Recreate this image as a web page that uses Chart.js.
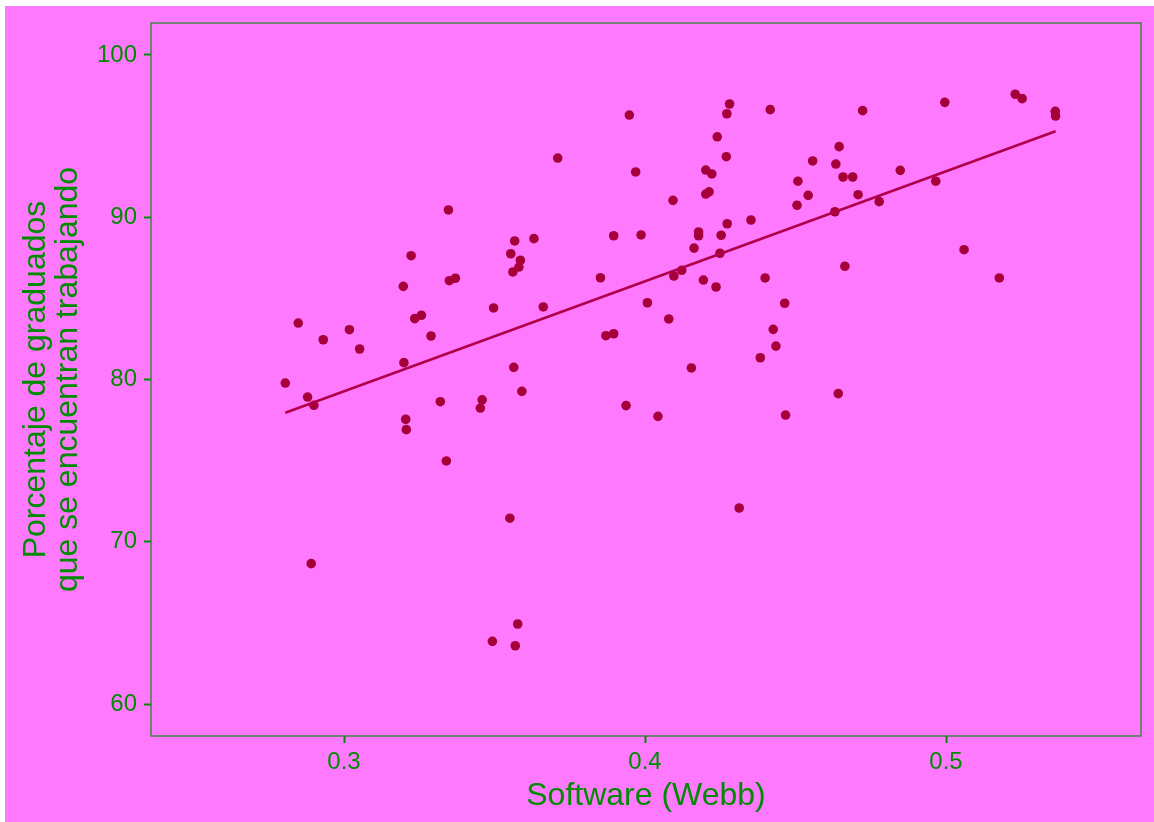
<!DOCTYPE html>
<html>
<head>
<meta charset="utf-8">
<script src="https://cdn.jsdelivr.net/npm/chart.js@4/dist/chart.umd.min.js"></script>
<style>
  html, body { margin: 0; padding: 0; background: #ffffff; }
  #wrap { position: absolute; left: 0; top: 0; width: 1154px; height: 822px; }
</style>
</head>
<body>
<div id="wrap"><canvas id="c" width="1154" height="822"></canvas></div>
<script>
// ---- data ----
const software = [
  0.3347, 0.3223, 0.3197, 0.3350, 0.3370, 0.3567, 0.3631, 0.3554, 0.3586, 0.3581,
  0.3561, 0.3497, 0.3662, 0.3710, 0.3948, 0.3969, 0.4093, 0.4281, 0.4272, 0.4416,
  0.4240, 0.4270, 0.4202, 0.4222, 0.4213, 0.4202, 0.4557, 0.4634, 0.4645, 0.4658,
  0.4508, 0.4542, 0.4505, 0.4631, 0.4352, 0.4273, 0.4178, 0.4178, 0.4253, 0.4163,
  0.4249, 0.3896, 0.3987, 0.3852, 0.4096, 0.4122, 0.4194, 0.4236, 0.4399, 0.4008,
  0.4464, 0.4723, 0.4996, 0.5230, 0.5253, 0.5363, 0.5364, 0.4690, 0.4708, 0.4848,
  0.4778, 0.4966, 0.4664, 0.5060, 0.5177, 0.2848, 0.2931, 0.3018, 0.3052, 0.2805,
  0.2879, 0.2900, 0.3199, 0.3235, 0.3257, 0.3289, 0.3564, 0.3591, 0.3205, 0.3207,
  0.3320, 0.3459, 0.3453, 0.3340, 0.3551, 0.2891, 0.4079, 0.3870, 0.3896, 0.4426,
  0.4435, 0.4383, 0.4154, 0.3937, 0.4043, 0.4467, 0.4642, 0.4313, 0.3577, 0.3493,
  0.3569
];
const pctEmployed = [
  90.45, 87.63, 85.74, 86.09, 86.24, 88.54, 88.68, 87.75, 87.35, 86.93,
  86.63, 84.41, 84.47, 93.65, 96.30, 92.79, 91.04, 96.98, 96.38, 96.63,
  94.96, 93.73, 92.91, 92.67, 91.57, 91.43, 93.47, 93.28, 94.35, 92.48,
  92.22, 91.35, 90.74, 90.34, 89.83, 89.60, 89.09, 88.86, 88.89, 88.10,
  87.78, 88.86, 88.91, 86.27, 86.38, 86.73, 86.13, 85.70, 86.26, 84.73,
  84.70, 96.57, 97.08, 97.58, 97.31, 96.53, 96.24, 92.48, 91.39, 92.89,
  90.96, 92.22, 86.98, 88.00, 86.26, 83.48, 82.45, 83.07, 81.88, 79.78,
  78.92, 78.41, 81.04, 83.75, 83.96, 82.68, 80.75, 79.27, 77.55, 76.91,
  78.63, 78.75, 78.24, 74.98, 71.45, 68.65, 83.73, 82.70, 82.82, 83.09,
  82.06, 81.34, 80.71, 78.39, 77.73, 77.81, 79.13, 72.08, 64.93, 63.86,
  63.59
];
// fitted line end points
const fitX = [0.2805, 0.5364];
const fitY = [77.95, 95.30];

const xTicks = [0.3, 0.4, 0.5];
const yTicks = [60, 70, 80, 90, 100];

const xTitle = 'Software (Webb)';
const yTitle = ['Porcentaje de graduados', 'que se encuentran trabajando'];

// ---- styles ----
const GREEN = '#008B00';
const PINK = '#FF79FF';
const FONT = '"Liberation Sans", Arial, Helvetica, sans-serif';

const pointsData = software.map((x, i) => ({ x: x, y: pctEmployed[i] }));
const lineData = fitX.map((x, i) => ({ x: x, y: fitY[i] }));

const bgPlugin = {
  id: 'bg',
  beforeDraw(chart) {
    const ctx = chart.ctx;
    ctx.save();
    ctx.fillStyle = '#ffffff';
    ctx.fillRect(0, 0, chart.width, chart.height);
    ctx.fillStyle = PINK;
    ctx.fillRect(5, 6, chart.width - 5, chart.height - 6);
    ctx.restore();
  },
  beforeDatasetsDraw(chart) {
    const a = chart.chartArea;
    const ctx = chart.ctx;
    ctx.save();
    ctx.strokeStyle = '#1a861a';
    ctx.lineWidth = 1.2;
    ctx.strokeRect(a.left, a.top, a.right - a.left, a.bottom - a.top);
    ctx.restore();
  }
};

new Chart(document.getElementById('c'), {
  type: 'scatter',
  data: {
    datasets: [
      {
        type: 'line',
        data: lineData,
        borderColor: '#B0004A',
        borderWidth: 2.5,
        pointRadius: 0,
        fill: false,
        tension: 0
      },
      {
        data: pointsData,
        backgroundColor: '#A6003B',
        borderColor: '#A6003B',
        borderWidth: 0,
        pointRadius: 4.8,
        pointHoverRadius: 4.8
      }
    ]
  },
  options: {
    responsive: false,
    animation: false,
    devicePixelRatio: 1,
    layout: { padding: { left: 0, top: 23, right: 13, bottom: 0 } },
    plugins: {
      legend: { display: false },
      tooltip: { enabled: false }
    },
    scales: {
      x: {
        type: 'linear',
        min: 0.23588,
        max: 0.56478,
        afterBuildTicks(scale) { scale.ticks = xTicks.map(v => ({ value: v })); },
        afterFit(scale) { scale.height = 86; },
        border: { display: false },
        grid: {
          drawOnChartArea: false,
          drawTicks: true,
          tickLength: 7,
          tickWidth: 2,
          tickColor: GREEN
        },
        ticks: {
          color: GREEN,
          font: { family: FONT, size: 24 },
          padding: 5,
          maxRotation: 0,
          callback: v => Number(v).toFixed(1)
        },
        title: {
          display: true,
          text: xTitle,
          color: GREEN,
          font: { family: FONT, size: 32, lineHeight: 1 },
          padding: { top: 0, bottom: 10 }
        }
      },
      y: {
        type: 'linear',
        min: 58.028,
        max: 101.972,
        afterBuildTicks(scale) { scale.ticks = yTicks.map(v => ({ value: v })); },
        afterFit(scale) { scale.width = 151; },
        border: { display: false },
        grid: {
          drawOnChartArea: false,
          drawTicks: true,
          tickLength: 7,
          tickWidth: 2,
          tickColor: GREEN
        },
        ticks: {
          color: GREEN,
          font: { family: FONT, size: 24 },
          padding: 7,
          callback: v => String(v)
        },
        title: {
          display: true,
          text: yTitle,
          color: GREEN,
          font: { family: FONT, size: 32, lineHeight: 1 },
          padding: { top: 20, bottom: 0 }
        }
      }
    }
  },
  plugins: [bgPlugin]
});
</script>
</body>
</html>
